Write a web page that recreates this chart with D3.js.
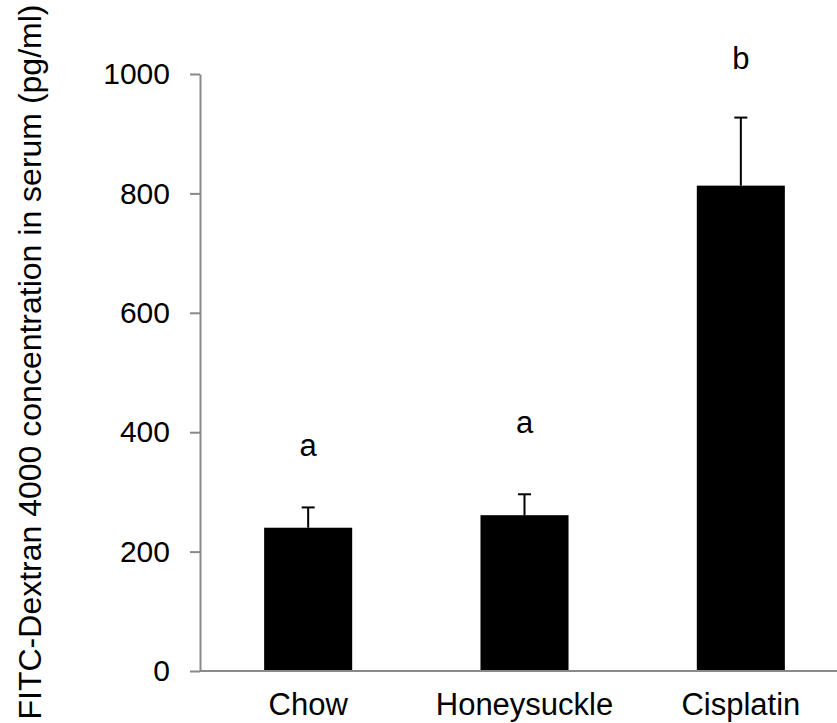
<!DOCTYPE html>
<html>
<head>
<meta charset="utf-8">
<script src="https://cdn.jsdelivr.net/npm/d3@7"></script>
<style>
  body { margin: 0; background: #fff; }
  text { font-family: "Liberation Sans", Arial, sans-serif; fill: #000; }
</style>
</head>
<body>
<div id="chart"></div>
<script>
// values
const groups = ["Chow", "Honeysuckle", "Cisplatin"];
const means = [240, 261, 813];
const sds = [34, 35, 114];
const letters = ["a", "a", "b"];
const letterAt = [360, 399, 1008]; // height of the significance letter, in pg/ml
const yTicks = [0, 200, 400, 600, 800, 1000];

const width = 837;
const height = 723;
const axisColor = "#898989";

const svg = d3
  .select("#chart")
  .append("svg")
  .attr("width", width)
  .attr("height", height);

// x band runs past the right edge, as in the original
const x = d3
  .scaleBand()
  .domain(groups)
  .range([200, 849])
  .paddingInner(0.593)
  .paddingOuter(0.2965);

const y = d3.scaleLinear().domain([0, 1000]).range([671, 74]);

// y axis
const yAxis = svg
  .append("g")
  .attr("transform", "translate(200,0)")
  .call(
    d3
      .axisLeft(y)
      .tickValues(yTicks)
      .tickFormat(d3.format("d"))
      .tickSize(10)
      .tickPadding(20)
      .tickSizeOuter(0)
  );
yAxis.select(".domain").attr("stroke", axisColor).attr("stroke-width", 2);
yAxis.selectAll(".tick line").attr("stroke", axisColor).attr("stroke-width", 2);
yAxis
  .selectAll(".tick text")
  .attr("font-size", 30)
  .attr("font-family", "Liberation Sans, Arial, sans-serif")
  .attr("fill", "#000");

// bars
svg
  .append("g")
  .selectAll("rect")
  .data(groups)
  .join("rect")
  .attr("x", d => x(d))
  .attr("width", x.bandwidth())
  .attr("y", (d, i) => y(means[i]))
  .attr("height", (d, i) => y(0) - y(means[i]))
  .attr("fill", "#000");

// error bars (upper only)
const err = svg.append("g").attr("stroke", "#000").attr("stroke-width", 2);
groups.forEach((g, i) => {
  const cx = x(g) + x.bandwidth() / 2;
  err
    .append("line")
    .attr("x1", cx)
    .attr("x2", cx)
    .attr("y1", y(means[i]))
    .attr("y2", y(means[i] + sds[i]));
  err
    .append("line")
    .attr("x1", cx - 6.5)
    .attr("x2", cx + 6.5)
    .attr("y1", y(means[i] + sds[i]))
    .attr("y2", y(means[i] + sds[i]));
});

// x axis line
svg
  .append("line")
  .attr("x1", 200)
  .attr("x2", width)
  .attr("y1", y(0))
  .attr("y2", y(0))
  .attr("stroke", axisColor)
  .attr("stroke-width", 2);

// category labels (kept just inside the bottom edge)
svg
  .append("g")
  .selectAll("text")
  .data(groups)
  .join("text")
  .attr("x", d => x(d) + x.bandwidth() / 2)
  .attr("y", 715)
  .attr("text-anchor", "middle")
  .attr("font-size", 31)
  .text(d => d);

// significance letters
svg
  .append("g")
  .selectAll("text")
  .data(groups)
  .join("text")
  .attr("x", d => x(d) + x.bandwidth() / 2)
  .attr("y", (d, i) => y(letterAt[i]))
  .attr("text-anchor", "middle")
  .attr("font-size", 31)
  .text((d, i) => letters[i]);

// y label
svg
  .append("text")
  .attr("transform", "translate(41,362) rotate(-90)")
  .attr("text-anchor", "middle")
  .attr("font-size", 32)
  .text("FITC-Dextran 4000 concentration in serum (pg/ml)");
</script>
</body>
</html>
